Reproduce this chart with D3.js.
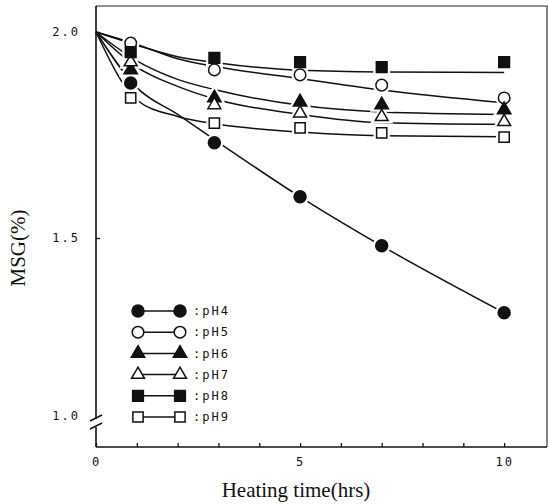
<!DOCTYPE html>
<html>
<head>
<meta charset="utf-8">
<script src="https://cdn.jsdelivr.net/npm/d3@7"></script>
<style>
  body { margin: 0; background: #fff; }
  svg { display: block; }
  .tick-label { font-family: "DejaVu Sans Mono", monospace; font-size: 12px; letter-spacing: 2px; fill: #111; }
  .axis-title { font-family: "Liberation Serif", serif; font-size: 21px; fill: #111; }
</style>
</head>
<body>
<div id="chart"></div>
<script>
// measured points (hours of heating, MSG %)
const hours = [0.85, 2.9, 5, 7, 10];
const pH4 = [1.876, 1.731, 1.600, 1.478, 1.290];
const pH5 = [1.973, 1.908, 1.896, 1.871, 1.840];
const pH6 = [1.908, 1.840, 1.830, 1.823, 1.811];
const pH7 = [1.927, 1.823, 1.803, 1.794, 1.782];
const pH8 = [1.951, 1.937, 1.927, 1.915, 1.927];
const pH9 = [1.840, 1.779, 1.767, 1.755, 1.745];

// fitted curves as drawn in the figure
const fitHours = [0, 1, 2, 3, 5, 7, 10];
const fitPH4 = [2.0, 1.865, 1.800, 1.732, 1.600, 1.478, 1.290];
const fitPH5 = [2.0, 1.970, 1.935, 1.915, 1.887, 1.859, 1.828];
const fitPH6 = [2.0, 1.930, 1.885, 1.858, 1.822, 1.806, 1.800];
const fitPH7 = [2.0, 1.915, 1.868, 1.835, 1.800, 1.780, 1.776];
const fitPH8 = [2.0, 1.968, 1.940, 1.925, 1.907, 1.903, 1.902];
const fitPH9 = [2.0, 1.835, 1.795, 1.776, 1.757, 1.748, 1.746];

const seriesNames = ["pH4", "pH5", "pH6", "pH7", "pH8", "pH9"];
const yTicks = [1.0, 1.5, 2.0];
const xTicks = [0, 1, 2, 3, 4, 5, 6, 7, 8, 9, 10];

const series = [
  {name: "pH4", vals: pH4, fit: fitPH4, type: d3.symbolCircle, size: 113, filled: true},
  {name: "pH5", vals: pH5, fit: fitPH5, type: d3.symbolCircle, size: 105, filled: false},
  {name: "pH6", vals: pH6, fit: fitPH6, type: d3.symbolTriangle, size: 78, filled: true},
  {name: "pH7", vals: pH7, fit: fitPH7, type: d3.symbolTriangle, size: 72, filled: false},
  {name: "pH8", vals: pH8, fit: fitPH8, type: d3.symbolSquare, size: 115, filled: true},
  {name: "pH9", vals: pH9, fit: fitPH9, type: d3.symbolSquare, size: 105, filled: false}
];

const W = 548, H = 504;
const frame = {left: 96, right: 547, top: 6, bottom: 447};

const svg = d3.select("#chart").append("svg")
  .attr("width", W).attr("height", H);

const x = d3.scaleLinear().domain([0, 11.05]).range([frame.left, frame.right]);
// axis is broken below 1.5, so two segments
const y = d3.scaleLinear().domain([1.0, 1.5, 2.0]).range([416, 238, 32]);

// frame (top + right, thin)
svg.append("path")
  .attr("d", `M${frame.left},${frame.top}H${frame.right}V${frame.bottom}`)
  .attr("fill", "none").attr("stroke", "#222").attr("stroke-width", 1.1);

// left axis line with break
svg.append("path")
  .attr("d", `M${frame.left},${frame.top}V419M${frame.left},427V${frame.bottom}`)
  .attr("fill", "none").attr("stroke", "#111").attr("stroke-width", 1.6);
svg.append("path")
  .attr("d", `M${frame.left - 6},421L${frame.left + 6},415M${frame.left - 6},429L${frame.left + 6},423`)
  .attr("fill", "none").attr("stroke", "#111").attr("stroke-width", 1.4);

// x axis
const xAxisG = svg.append("g")
  .attr("transform", `translate(0,${frame.bottom})`)
  .call(d3.axisBottom(x).tickValues(xTicks).tickSize(-4).tickSizeOuter(0).tickPadding(8)
    .tickFormat(d => d % 5 === 0 ? d : ""));
xAxisG.select(".domain").attr("stroke", "#111").attr("stroke-width", 1.6)
  .attr("d", `M${frame.left},0H${frame.right}`);
xAxisG.selectAll(".tick line").attr("stroke", "#111").attr("stroke-width", 1.3);
xAxisG.selectAll(".tick text").attr("class", "tick-label").attr("fill", null)
  .attr("dy", "0.9em");
xAxisG.attr("font-family", null).attr("font-size", null);

// y axis
const yAxisG = svg.append("g")
  .attr("transform", `translate(${frame.left},0)`)
  .call(d3.axisLeft(y).tickValues(yTicks).tickSize(-4).tickPadding(16)
    .tickFormat(d3.format(".1f")));
yAxisG.select(".domain").remove();
yAxisG.selectAll(".tick line").attr("stroke", "#111").attr("stroke-width", 1.3)
  .filter(d => d === 1.0).remove();
yAxisG.selectAll(".tick text").attr("class", "tick-label").attr("fill", null);
yAxisG.attr("font-family", null).attr("font-size", null);

// axis titles
svg.append("text").attr("class", "axis-title")
  .attr("x", 296).attr("y", 497).attr("text-anchor", "middle")
  .text("Heating time(hrs)");
svg.append("text").attr("class", "axis-title")
  .attr("transform", "translate(25,248) rotate(-90)")
  .attr("text-anchor", "middle")
  .text("MSG(%)");

// fitted curves
const line = d3.line()
  .x((d, i) => x(fitHours[i]))
  .y(d => y(d))
  .curve(d3.curveMonotoneX);

svg.append("g").selectAll("path")
  .data(series)
  .join("path")
    .attr("d", s => line(s.fit))
    .attr("fill", "none")
    .attr("stroke", "#111")
    .attr("stroke-width", 1.5);

// markers: white halo first so lines break around them
const pts = series.flatMap(s => s.vals.map((v, i) => ({s: s, t: hours[i], v: v})));

svg.append("g").selectAll("path")
  .data(pts)
  .join("path")
    .attr("transform", d => `translate(${x(d.t)},${y(d.v)})`)
    .attr("d", d => d3.symbol().type(d.s.type).size(d.s.size)())
    .attr("fill", "#fff").attr("stroke", "#fff").attr("stroke-width", 6);

svg.append("g").selectAll("path")
  .data(pts)
  .join("path")
    .attr("transform", d => `translate(${x(d.t)},${y(d.v)})`)
    .attr("d", d => d3.symbol().type(d.s.type).size(d.s.size)())
    .attr("fill", d => d.s.filled ? "#111" : "#fff")
    .attr("stroke", "#111").attr("stroke-width", 1.5);

// legend
const legendY = d3.scalePoint().domain(seriesNames).range([311, 417]);
const leg = svg.append("g").selectAll("g")
  .data(series)
  .join("g")
    .attr("transform", s => `translate(0,${legendY(s.name)})`);

leg.append("line")
  .attr("x1", 138).attr("x2", 180)
  .attr("stroke", "#111").attr("stroke-width", 1.5);
[138, 180].forEach(px => {
  leg.append("path")
    .attr("transform", `translate(${px},0)`)
    .attr("d", s => d3.symbol().type(s.type).size(s.size)())
    .attr("fill", s => s.filled ? "#111" : "#fff")
    .attr("stroke", "#111").attr("stroke-width", 1.5);
});
leg.append("text")
  .attr("class", "tick-label")
  .attr("x", 193).attr("dy", "0.35em")
  .text(s => ":" + s.name);
</script>
</body>
</html>
